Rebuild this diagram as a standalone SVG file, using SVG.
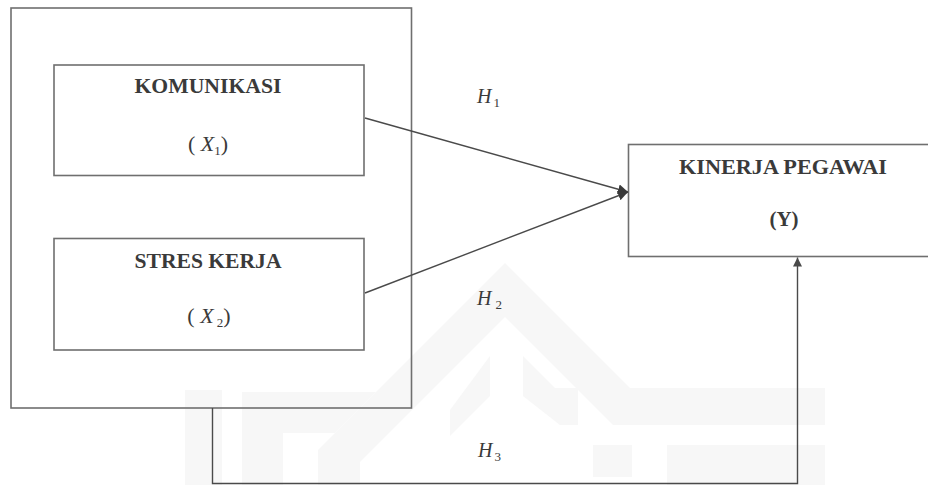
<svg xmlns="http://www.w3.org/2000/svg" width="928" height="485" viewBox="0 0 928 485">
<style>
.box{fill:none;stroke:#6f6f6f;stroke-width:1.6}
.lbl{font-family:"Liberation Serif","Times New Roman",serif;font-weight:bold;font-size:21px;fill:#3a3a3a;text-anchor:middle}
.var{font-family:"Liberation Serif","Times New Roman",serif;font-size:22px;fill:#3a3a3a}
.hyp{font-family:"Liberation Serif","Times New Roman",serif;font-size:20px;fill:#3a3a3a}
.it{font-style:italic}
.sub{font-size:13px}
.con{fill:none;stroke:#4a4a4a;stroke-width:1.4}
.wm{fill:#f7f7f7}
</style>
<defs>
<marker id="ah" viewBox="0 0 10 10" refX="10" refY="5" markerWidth="10" markerHeight="10" markerUnits="userSpaceOnUse" orient="auto">
<path d="M0,0 L10,5 L0,10 Z" fill="#3a3a3a"/>
</marker>
<marker id="ah2" viewBox="0 0 10 10" refX="10" refY="5" markerWidth="11" markerHeight="9" markerUnits="userSpaceOnUse" orient="auto">
<path d="M0,0 L10,5 L0,10 Z" fill="#4a4a4a"/>
</marker>
</defs>
<rect width="928" height="485" fill="#ffffff"/>
<g id="watermark">
<polygon class="wm" points="505,263 630,388 825,388 825,425 613,425 505,317 360,462 360,485 318,485 318,450"/>
<polygon class="wm" points="242,392 376,392 335,433 283,433 283,485 242,485"/>
<rect class="wm" x="185" y="390" width="37" height="95"/>
<polygon class="wm" points="490,356 490,396 450,436 450,410"/>
<polygon class="wm" points="523,356 555,388 578,388 578,425 560,425 523,396"/>
<rect class="wm" x="593" y="445" width="39" height="32"/>
<rect class="wm" x="667" y="445" width="158" height="40"/>
</g>
<g id="outer">
<rect class="box" x="11" y="8" width="400.5" height="400"/>
</g>
<g id="komunikasi">
<rect class="box" x="54" y="65" width="310" height="110.5"/>
<text class="lbl" x="208" y="93" textLength="147" lengthAdjust="spacingAndGlyphs">KOMUNIKASI</text>
<text class="var" x="208" y="151" text-anchor="middle">( <tspan class="it">X</tspan><tspan class="sub" dy="4">1</tspan><tspan dy="-4">)</tspan></text>
</g>
<g id="stres">
<rect class="box" x="54" y="238.5" width="310" height="111.5"/>
<text class="lbl" x="208" y="268" textLength="147" lengthAdjust="spacingAndGlyphs">STRES KERJA</text>
<text class="var" x="209" y="323" text-anchor="middle">( <tspan class="it">X</tspan><tspan class="sub" dy="4"> 2</tspan><tspan dy="-4">)</tspan></text>
</g>
<g id="kinerja">
<rect class="box" x="628.5" y="144.5" width="302" height="112"/>
<text class="lbl" x="783" y="174" textLength="208" lengthAdjust="spacingAndGlyphs">KINERJA PEGAWAI</text>
<text class="lbl" x="784" y="226">(Y)</text>
</g>
<g id="connectors">
<line class="con" x1="365" y1="118" x2="628" y2="192" marker-end="url(#ah)"/>
<line class="con" x1="365" y1="293" x2="628" y2="192" marker-end="url(#ah)"/>
<polyline class="con" points="212.5,408 212.5,483.5 797.5,483.5 797.5,257.5" marker-end="url(#ah2)"/>
</g>
<g id="labels">
<text class="hyp" x="477" y="103"><tspan class="it">H</tspan><tspan class="sub" dx="2" dy="4">1</tspan></text>
<text class="hyp" x="477" y="305"><tspan class="it">H</tspan><tspan class="sub" dx="4" dy="4">2</tspan></text>
<text class="hyp" x="478" y="457"><tspan class="it">H</tspan><tspan class="sub" dx="2" dy="4">3</tspan></text>
</g>
</svg>
